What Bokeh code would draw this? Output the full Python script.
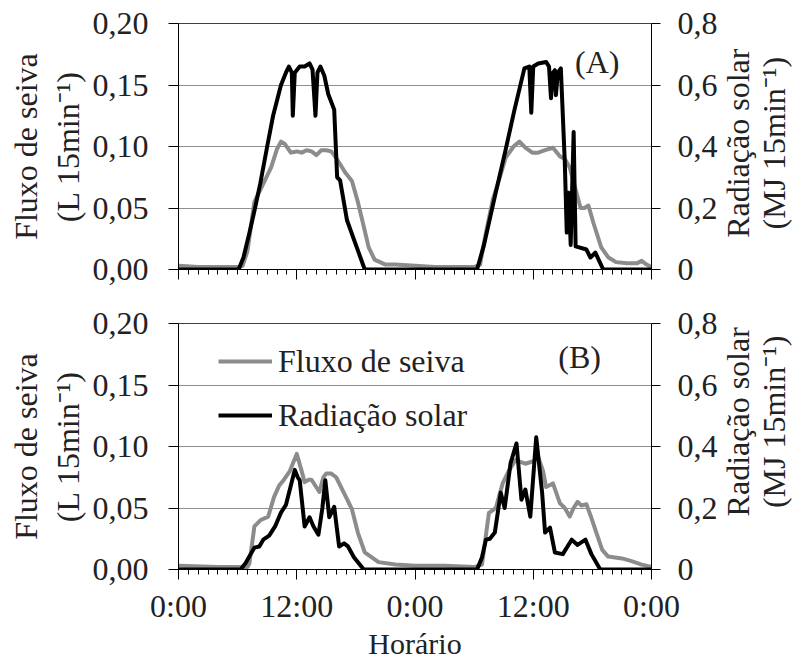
import math
from bokeh.plotting import figure
from bokeh.models import Range1d, LinearAxis, FixedTicker, Label, Legend, LegendItem
from bokeh.layouts import column, row
from bokeh.core.properties import value
from bokeh.embed import file_html
from bokeh.resources import INLINE

# ---------------- data (hours since start, two days) ----------------
# Panel A - sap flow (L 15min-1), left axis
sap_a_t = [0, 2, 4, 6, 6.5, 7, 7.7, 8.5, 9.4, 10, 10.4, 10.8, 11.4, 12, 12.5, 13, 13.5, 14, 14.5, 15,
           15.5, 15.8, 16.3, 16.9, 17.6, 18.2, 18.8, 19.3, 19.9, 21, 22, 24, 26, 28, 30, 30.6, 31.2,
           31.9, 32.5, 33.2, 34, 34.6, 35.2, 35.9, 36.5, 37.2, 38, 38.7, 39.2, 39.7, 40.3, 40.8, 41.2,
           41.6, 42.1, 42.9, 43.6, 44.4, 45.5, 46.5, 47, 47.5, 48]
sap_a_v = [0.003, 0.002, 0.002, 0.002, 0.003, 0.015, 0.055, 0.068, 0.083, 0.098, 0.104, 0.102, 0.095,
           0.096, 0.095, 0.097, 0.096, 0.093, 0.097, 0.097, 0.096, 0.093, 0.087, 0.079, 0.072, 0.055,
           0.035, 0.018, 0.008, 0.004, 0.004, 0.003, 0.002, 0.002, 0.002, 0.004, 0.030, 0.057, 0.072,
           0.091, 0.100, 0.104, 0.099, 0.095, 0.095, 0.097, 0.099, 0.092, 0.090, 0.083, 0.065, 0.050,
           0.050, 0.052, 0.038, 0.018, 0.010, 0.006, 0.005, 0.005, 0.007, 0.004, 0.002]
# Panel A - solar radiation (MJ 15min-1), right axis
rad_a_t = [0, 6.1, 6.6, 7.2, 7.7, 8.3, 9.0, 9.6, 10.4, 10.9, 11.2, 11.5, 11.6, 11.8, 12.3, 12.8, 13.3,
           13.6, 13.9, 14.1, 14.4, 14.8, 15.2, 15.8, 16.1, 16.4, 17.1, 18.0, 18.9, 30.3, 31.0, 32.1,
           33.2, 34.1, 35.1, 35.6, 35.8, 36.0, 36.5, 37.3, 37.6, 37.8, 38.0, 38.2, 38.3, 38.5, 38.8,
           39.2, 39.4, 39.6, 39.8, 40.1, 40.3, 41.4, 41.8, 42.3, 43.1, 48]
rad_a_v = [0, 0, 0.04, 0.12, 0.19, 0.28, 0.40, 0.50, 0.60, 0.64, 0.66, 0.64, 0.50, 0.64, 0.66, 0.66,
           0.67, 0.65, 0.50, 0.64, 0.66, 0.63, 0.57, 0.52, 0.30, 0.29, 0.16, 0.08, 0, 0, 0.08, 0.237,
           0.39, 0.52, 0.654, 0.66, 0.51, 0.66, 0.67, 0.675, 0.66, 0.557, 0.64, 0.648, 0.567, 0.64,
           0.654, 0.35, 0.12, 0.25, 0.08, 0.447, 0.075, 0.065, 0.039, 0.055, 0, 0]
# Panel B - sap flow
sap_b_t = [0, 4, 7, 7.2, 7.7, 8.3, 9.1, 9.7, 10.2, 10.7, 11.3, 12.0, 12.5, 12.8, 13.2, 13.5, 14.3, 14.7,
           15.0, 15.5, 16.0, 16.8, 17.6, 18.2, 18.9, 20.3, 22, 24, 27, 30, 30.8, 31.5, 32.2, 32.9, 33.5,
           34.2, 35.2, 36.0, 36.5, 37.0, 37.3, 38.0, 38.7, 39.2, 39.7, 40.1, 40.5, 40.9, 41.4, 41.9,
           42.4, 43.0, 43.6, 45.0, 45.9, 47.0, 48]
sap_b_v = [0.003, 0.002, 0.002, 0.005, 0.035, 0.040, 0.043, 0.059, 0.068, 0.073, 0.080, 0.094, 0.080,
           0.071, 0.073, 0.073, 0.063, 0.075, 0.078, 0.078, 0.075, 0.062, 0.049, 0.030, 0.014, 0.006,
           0.004, 0.003, 0.003, 0.002, 0.004, 0.046, 0.050, 0.070, 0.080, 0.089, 0.086, 0.088, 0.0915,
           0.080, 0.067, 0.070, 0.054, 0.050, 0.043, 0.050, 0.055, 0.052, 0.053, 0.042, 0.030, 0.016,
           0.0105, 0.009, 0.007, 0.004, 0.002]
# Panel B - solar radiation
rad_b_t = [0, 6.3, 6.8, 7.7, 8.2, 8.6, 9.2, 9.8, 10.4, 10.9, 11.3, 11.8, 12.1, 12.3, 12.8, 13.3, 13.7,
           14.2, 14.6, 14.9, 15.3, 15.8, 16.3, 16.8, 17.2, 17.8, 18.8, 30.3, 30.8, 31.2, 31.6, 32.1,
           32.7, 33.1, 33.7, 34.3, 34.8, 35.2, 35.7, 36.3, 36.9, 37.2, 37.7, 38.2, 39.0, 39.9, 40.5,
           41.3, 41.9, 42.8, 48]
rad_b_v = [0, 0, 0.02, 0.071, 0.075, 0.097, 0.11, 0.14, 0.185, 0.21, 0.26, 0.324, 0.30, 0.29, 0.14,
           0.17, 0.14, 0.113, 0.20, 0.29, 0.17, 0.204, 0.075, 0.085, 0.075, 0.04, 0, 0, 0.04, 0.097,
           0.10, 0.12, 0.25, 0.20, 0.346, 0.41, 0.227, 0.26, 0.172, 0.43, 0.25, 0.12, 0.136, 0.055,
           0.05, 0.097, 0.08, 0.097, 0.05, 0, 0]

x_ticks = [0, 12, 24, 36, 48]
x_tick_labels = ["0:00", "12:00", "0:00", "12:00", "0:00"]
x_minor = list(range(49))
left_ticks = [0, 0.05, 0.1, 0.15, 0.2]
left_tick_labels = ["0,00", "0,05", "0,10", "0,15", "0,20"]
right_ticks = [0, 0.2, 0.4, 0.6, 0.8]
right_tick_labels = ["0", "0,2", "0,4", "0,6", "0,8"]

series_names = ["Fluxo de seiva", "Radiação solar"]
left_title = "Fluxo de seiva\n(L 15min\u207b\u00b9)"
right_title_lines = ["Radiação solar", "(MJ 15min\u207b\u00b9)"]
x_title = "Horário"

FONT = "Liberation Serif"
TICK_FS = "32px"
TITLE_FS = "32px"
GRAY = "#8c8c8c"
TXT = "#222222"

TOP = 23
FRAME_H = 246
RIGHT_B = 68
TITLE_W = 74


def panel(sap_t, sap_v, rad_t, rad_v, tag, tag_x, tag_y, bottom, show_x):
    p = figure(frame_width=473, frame_height=FRAME_H, x_range=Range1d(0, 48), y_range=Range1d(0, 0.2),
               output_backend="svg", toolbar_location=None,
               min_border_left=178, min_border_right=RIGHT_B, min_border_top=TOP,
               min_border_bottom=bottom)
    p.extra_y_ranges = {"rad": Range1d(0, 0.8)}
    p.background_fill_color = "white"
    p.border_fill_color = "white"
    p.outline_line_color = "#404040"
    p.outline_line_width = 1

    p.xgrid.visible = False
    p.ygrid.ticker = FixedTicker(ticks=left_ticks)
    p.ygrid.grid_line_color = "#8f8f8f"
    p.ygrid.grid_line_width = 1

    # left axis
    ya = p.yaxis[0]
    ya.ticker = FixedTicker(ticks=left_ticks, minor_ticks=[])
    ya.major_label_overrides = {t: l for t, l in zip(left_ticks, left_tick_labels)}
    ya.major_tick_out = 10
    ya.major_tick_in = 0
    ya.minor_tick_line_color = None
    ya.major_label_standoff = 20
    ya.major_label_text_font = FONT
    ya.major_label_text_font_size = TICK_FS
    ya.major_label_text_color = TXT
    ya.axis_line_color = "black"
    ya.major_tick_line_color = "black"
    ya.axis_label = left_title
    ya.axis_label_standoff = 4
    ya.axis_label_text_font = FONT
    ya.axis_label_text_font_size = TITLE_FS
    ya.axis_label_text_font_style = "normal"
    ya.axis_label_text_color = TXT
    ya.axis_label_text_line_height = 1.15

    # right axis (its title is drawn in a narrow companion figure)
    ra = LinearAxis(y_range_name="rad")
    ra.ticker = FixedTicker(ticks=right_ticks, minor_ticks=[])
    ra.major_label_overrides = {t: l for t, l in zip(right_ticks, right_tick_labels)}
    ra.major_tick_out = 9
    ra.major_tick_in = 0
    ra.minor_tick_line_color = None
    ra.major_label_standoff = 17
    ra.major_label_text_font = FONT
    ra.major_label_text_font_size = TICK_FS
    ra.major_label_text_color = TXT
    ra.axis_line_color = "black"
    ra.major_tick_line_color = "black"
    p.add_layout(ra, "right")

    # x axis
    xa = p.xaxis[0]
    xa.ticker = FixedTicker(ticks=x_ticks, minor_ticks=x_minor)
    xa.major_tick_out = 10
    xa.major_tick_in = 0
    xa.minor_tick_out = 5
    xa.minor_tick_in = 0
    xa.axis_line_color = "black"
    xa.major_tick_line_color = "black"
    xa.minor_tick_line_color = "black"
    if show_x:
        xa.major_label_overrides = {t: l for t, l in zip(x_ticks, x_tick_labels)}
        xa.major_label_standoff = 8
        xa.major_label_text_font = FONT
        xa.major_label_text_font_size = TICK_FS
        xa.major_label_text_color = TXT
        xa.axis_label = x_title
        xa.axis_label_standoff = 0
        xa.axis_label_text_font = FONT
        xa.axis_label_text_font_size = "30px"
        xa.axis_label_text_font_style = "normal"
        xa.axis_label_text_color = TXT
    else:
        xa.major_label_text_font_size = "1px"
        xa.major_label_text_color = None
        xa.major_label_standoff = 0

    g = p.line(sap_t, sap_v, line_color=GRAY, line_width=4, line_join="round")
    b = p.line(rad_t, rad_v, line_color="black", line_width=4, line_join="round", y_range_name="rad")

    p.add_layout(Label(x=tag_x, y=tag_y, text=tag, text_align="center", text_baseline="middle",
                       text_font=FONT, text_font_size=TITLE_FS, text_color=TXT))
    return p, g, b


def right_title_fig(total_h):
    t = figure(width=TITLE_W, height=total_h, x_range=Range1d(0, TITLE_W), y_range=Range1d(0, total_h),
               output_backend="svg", toolbar_location=None, min_border=0,
               x_axis_location=None, y_axis_location=None)
    t.grid.visible = False
    t.outline_line_color = None
    t.background_fill_color = "white"
    t.border_fill_color = "white"
    yc = total_h - (TOP + FRAME_H / 2)
    t.text(x=[17, 53], y=[yc, yc], text=right_title_lines, angle=math.pi / 2,
           text_align="center", text_baseline="middle", text_font=value(FONT),
           text_font_size=value(TITLE_FS), text_color=TXT)
    return t


BOTTOM_A = 31
BOTTOM_B = 86
p1, g1, b1 = panel(sap_a_t, sap_a_v, rad_a_t, rad_a_v, "(A)", 42.5, 0.169, BOTTOM_A, False)
p2, g2, b2 = panel(sap_b_t, sap_b_v, rad_b_t, rad_b_v, "(B)", 40.7, 0.173, BOTTOM_B, True)
t1 = right_title_fig(TOP + FRAME_H + BOTTOM_A)
t2 = right_title_fig(TOP + FRAME_H + BOTTOM_B)

legend = Legend(items=[LegendItem(label=series_names[0], renderers=[g2]),
                       LegendItem(label=series_names[1], renderers=[b2])],
                location=(40, 134), padding=0, spacing=14, glyph_width=54, glyph_height=40,
                label_height=40, label_standoff=6, label_text_font=FONT,
                label_text_font_size=TITLE_FS, label_text_color=TXT,
                background_fill_alpha=0, border_line_alpha=0)
p2.add_layout(legend)

layout = column(row(p1, t1, spacing=0), row(p2, t2, spacing=0), spacing=0)
open("out.html", "w").write(file_html(layout, INLINE))
